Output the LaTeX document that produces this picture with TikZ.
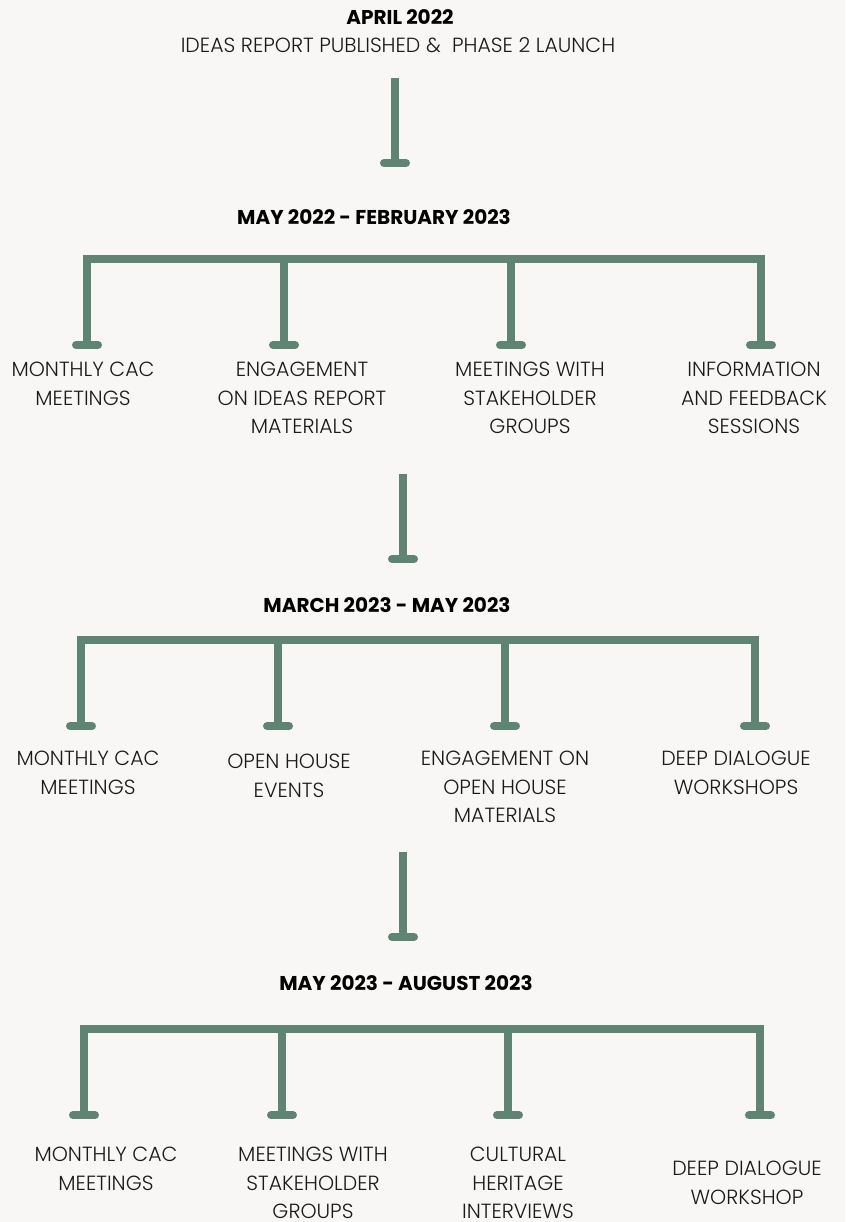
\documentclass[tikz,border=0pt]{standalone}
\usepackage{fontspec}
\setmainfont{Poppins}
\newfontfamily\bodyf{Poppins Light}
\newfontfamily\headf{Poppins}
\definecolor{sage}{HTML}{5F8474}
\definecolor{paper}{HTML}{F8F7F5}
\definecolor{ink}{HTML}{1A1A1A}
\tikzset{
  stem/.style={draw=sage, line width=7.5pt, line join=miter},
  foot/.style={draw=sage, line width=8pt, line cap=round},
  lbl/.style={font=\bodyf\fontsize{20.5}{28.5}\selectfont, align=center, anchor=north, inner sep=0pt, text=ink},
  hdr/.style={font=\headf\bfseries\fontsize{20}{24}\selectfont, anchor=north, inner sep=0pt, text=black},
}
\begin{document}
\begin{tikzpicture}[x=1pt,y=-1pt]
\fill[paper] (0,0) rectangle (845,1222);
\useasboundingbox (0,0) rectangle (845,1222);

% ---------- top ----------
\node[hdr] (apr) at (400,9) {APRIL 2022};
\node[lbl] (ideas) at (398,37) {IDEAS REPORT PUBLISHED \&~ PHASE 2 LAUNCH};
\coordinate (s1t) at (395,78);
\coordinate (s1f) at (395,163);
\draw[stem] (s1t) -- (s1f);
\draw[foot] ([xshift=-11pt]s1f) -- ([xshift=11pt]s1f);

% ---------- phase A ----------
\node[hdr] (hA) at (374,209) {MAY 2022 - FEBRUARY 2023};
\coordinate (aL) at (87,259);
\coordinate (aR) at (761,259);
\coordinate (a1) at (87,345);
\coordinate (a2) at (284,345);
\coordinate (a3) at (511,345);
\coordinate (a4) at (761,345);
\draw[stem] (a1) -- (aL) -- (aR) -- (a4);
\draw[stem] (a2) -- (a2 |- aL);
\draw[stem] (a3) -- (a3 |- aL);
\foreach \c in {a1,a2,a3,a4}{\draw[foot] ([xshift=-11pt]\c) -- ([xshift=11pt]\c);}
\node[lbl] (la1) at (83,362) {MONTHLY CAC\\MEETINGS};
\node[lbl] (la2) at (302,362) {ENGAGEMENT\\ON IDEAS REPORT\\MATERIALS};
\node[lbl] (la3) at (530,362) {MEETINGS WITH\\STAKEHOLDER\\GROUPS};
\node[lbl] (la4) at (754,362) {INFORMATION\\AND FEEDBACK\\SESSIONS};

\coordinate (s2t) at (403,474);
\coordinate (s2f) at (403,559);
\draw[stem] (s2t) -- (s2f);
\draw[foot] ([xshift=-11pt]s2f) -- ([xshift=11pt]s2f);

% ---------- phase B ----------
\node[hdr] (hB) at (387,597) {MARCH 2023 - MAY 2023};
\coordinate (bL) at (81,640);
\coordinate (bR) at (755,640);
\coordinate (b1) at (81,726);
\coordinate (b2) at (278,726);
\coordinate (b3) at (505,726);
\coordinate (b4) at (755,726);
\draw[stem] (b1) -- (bL) -- (bR) -- (b4);
\draw[stem] (b2) -- (b2 |- bL);
\draw[stem] (b3) -- (b3 |- bL);
\foreach \c in {b1,b2,b3,b4}{\draw[foot] ([xshift=-11pt]\c) -- ([xshift=11pt]\c);}
\node[lbl] (lb1) at (88,751) {MONTHLY CAC\\MEETINGS};
\node[lbl] (lb2) at (289,754) {OPEN HOUSE\\EVENTS};
\node[lbl] (lb3) at (505,751) {ENGAGEMENT ON\\OPEN HOUSE\\MATERIALS};
\node[lbl] (lb4) at (736,751) {DEEP DIALOGUE\\WORKSHOPS};

\coordinate (s3t) at (403,852);
\coordinate (s3f) at (403,937);
\draw[stem] (s3t) -- (s3f);
\draw[foot] ([xshift=-11pt]s3f) -- ([xshift=11pt]s3f);

% ---------- phase C ----------
\node[hdr] (hC) at (406,975) {MAY 2023 - AUGUST 2023};
\coordinate (cL) at (84,1029);
\coordinate (cR) at (760,1029);
\coordinate (c1) at (84,1115);
\coordinate (c2) at (282,1115);
\coordinate (c3) at (508,1115);
\coordinate (c4) at (760,1115);
\draw[stem] (c1) -- (cL) -- (cR) -- (c4);
\draw[stem] (c2) -- (c2 |- cL);
\draw[stem] (c3) -- (c3 |- cL);
\foreach \c in {c1,c2,c3,c4}{\draw[foot] ([xshift=-11pt]\c) -- ([xshift=11pt]\c);}
\node[lbl] (lc1) at (106,1147) {MONTHLY CAC\\MEETINGS};
\node[lbl] (lc2) at (313,1147) {MEETINGS WITH\\STAKEHOLDER\\GROUPS};
\node[lbl] (lc3) at (518,1147) {CULTURAL\\HERITAGE\\INTERVIEWS};
\node[lbl] (lc4) at (747,1161) {DEEP DIALOGUE\\WORKSHOP};
\end{tikzpicture}
\end{document}
